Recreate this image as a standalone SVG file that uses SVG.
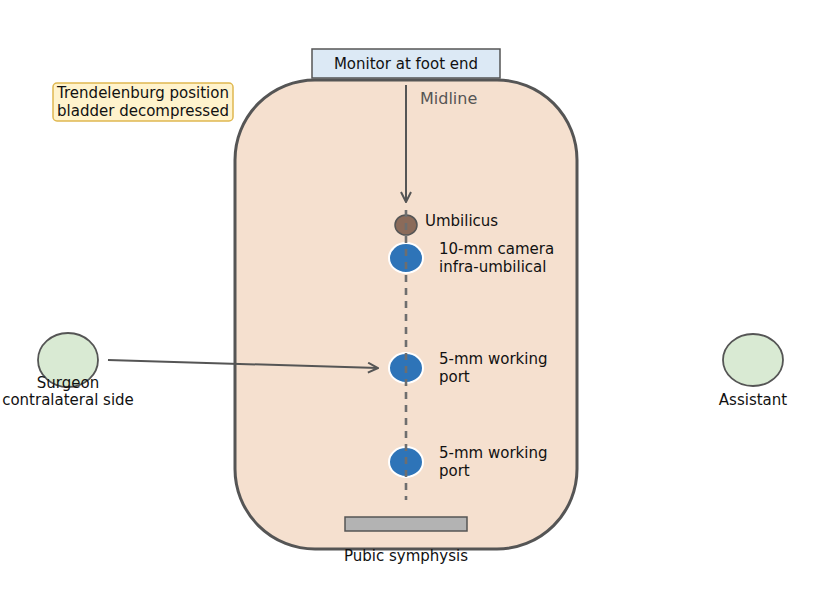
<svg xmlns="http://www.w3.org/2000/svg" width="818" height="604" viewBox="0 0 818 604">
<defs>
<style>
text{font-family:"DejaVu Sans","Noto Sans",sans-serif;font-size:15px;fill:#111}
.c{text-anchor:middle}
.port{fill:#2e74b8;stroke:#fff;stroke-width:2}
.person{fill:#d9ead3;stroke:#555;stroke-width:1.8}
.conn{stroke:#555;stroke-width:2;fill:none}
</style>
<marker id="ah" viewBox="0 0 12 12" refX="11" refY="6" markerWidth="12" markerHeight="12" markerUnits="userSpaceOnUse" orient="auto">
<polyline points="1,1 11,6 1,11" fill="none" stroke="#555" stroke-width="2"/>
</marker>
</defs>
<rect width="818" height="604" fill="#fff"/>
<g id="body">
<rect x="235" y="80" width="342" height="469" rx="80" ry="80" fill="#f5e0cf" stroke="#555" stroke-width="3"/>
</g>
<g id="monitor">
<rect x="312" y="49" width="188" height="29" fill="#dce9f5" stroke="#555" stroke-width="1.5"/>
<text class="c" x="406" y="69">Monitor at foot end</text>
</g>
<g id="midline-label">
<text x="420" y="104" style="fill:#555;font-size:16px">Midline</text>
</g>
<g id="note">
<rect x="53" y="83" width="180" height="38" rx="4" fill="#fff3cc" stroke="#e0b850" stroke-width="1.5"/>
<text class="c" x="143" y="98">Trendelenburg position</text>
<text class="c" x="143" y="116">bladder decompressed</text>
</g>
<g id="pubic">
<rect x="345" y="517" width="122" height="14" fill="#b3b3b3" stroke="#555" stroke-width="1.5"/>
<text class="c" x="406" y="561">Pubic symphysis</text>
</g>
<g id="umbilicus">
<ellipse cx="406" cy="225" rx="11" ry="10" fill="#8b6b5a" stroke="#555" stroke-width="1.5"/>
<text x="425" y="226">Umbilicus</text>
</g>
<g id="port-camera">
<ellipse class="port" cx="406" cy="258" rx="17" ry="15"/>
<text x="439" y="254">10-mm camera</text>
<text x="439" y="272">infra-umbilical</text>
</g>
<g id="port-working-1">
<ellipse class="port" cx="406" cy="368" rx="17" ry="15"/>
<text x="439" y="364">5-mm working</text>
<text x="439" y="382">port</text>
</g>
<g id="port-working-2">
<ellipse class="port" cx="406" cy="462" rx="17" ry="15"/>
<text x="439" y="458">5-mm working</text>
<text x="439" y="476">port</text>
</g>
<g id="surgeon">
<ellipse class="person" cx="68" cy="360" rx="30" ry="27"/>
<text class="c" x="68" y="388">Surgeon</text>
<text class="c" x="68" y="405">contralateral side</text>
</g>
<g id="assistant">
<ellipse class="person" cx="753" cy="360" rx="30" ry="26"/>
<text class="c" x="753" y="405">Assistant</text>
</g>
<g id="connectors">
<line x1="406" y1="210" x2="406" y2="500" stroke="#6e6e6e" stroke-width="2.6" stroke-dasharray="7,6"/>
<line class="conn" x1="406" y1="85" x2="406" y2="202" marker-end="url(#ah)"/>
<line class="conn" x1="108" y1="360" x2="378" y2="368" marker-end="url(#ah)"/>
</g>
</svg>
